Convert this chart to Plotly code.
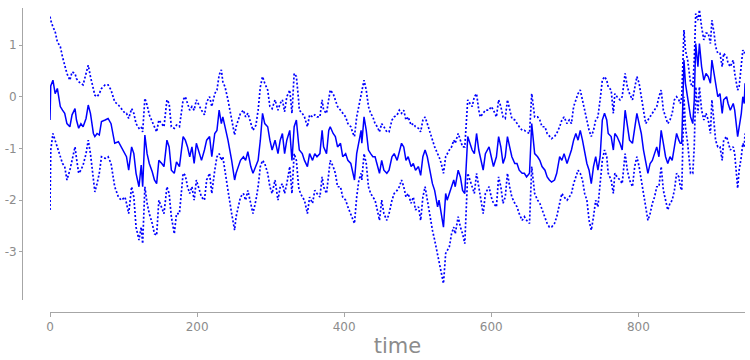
import plotly.graph_objects as go

time_index = [
    0, 1, 4, 7, 10, 14, 17, 20, 23, 27, 30, 34, 36, 39, 42, 45, 49, 52, 55, 59, 61, 64, 67, 70, 75, 79,
    83, 88, 93, 97, 102, 104, 107, 111, 114, 117, 121, 124, 126, 129, 132, 135, 139, 142, 145, 148, 152, 155, 159, 162, 165,
    169, 172, 176, 181, 184, 187, 190, 193, 196, 199, 203, 206, 210, 213, 217, 220, 224, 227, 230, 233, 235, 238, 242, 247, 251,
    253, 256, 259, 263, 266, 269, 273, 276, 280, 283, 286, 289, 292, 296, 299, 302, 306, 310, 313, 316, 319, 322, 326, 329, 332, 335, 338,
    339, 343, 346, 350, 353, 357, 360, 363, 367, 370, 372, 376, 379, 381, 385, 388, 391, 395, 398, 402, 405, 409, 412, 414, 417, 420, 423,
    424, 427, 430, 433, 436, 439, 442, 445, 448, 451, 454, 458, 461, 465, 468, 472, 475, 478, 481, 484, 487, 491, 494, 497, 501, 504, 507,
    510, 513, 517, 520, 523, 527, 529, 532, 535, 538, 540, 543, 546, 549, 551, 555, 558, 561, 564, 566, 568, 571, 574, 577, 580, 583, 585, 589, 592,
    597, 600, 603, 607, 610, 613, 616, 619, 622, 625, 628, 632, 635, 638, 642, 645, 648, 652, 655, 659, 663, 666, 669, 673, 676, 679,
    682, 686, 689, 693, 696, 699, 703, 706, 709, 712, 715, 718, 721, 724, 727, 730, 733, 736, 739, 742, 745, 748, 751, 754, 757, 759, 763, 766,
    768, 771, 775, 778, 782, 785, 788, 792, 795, 798, 801, 804, 807, 810, 813, 816, 819, 822, 825, 828, 831, 834, 837, 840, 843, 846, 849,
    852, 855, 857, 859, 862, 864, 867, 871, 874, 876, 878, 881, 883, 886, 889, 892, 895, 898, 900, 903, 905, 908, 911, 914, 916, 920, 922, 925, 929, 931, 935, 937, 940, 942, 944, 945,
]

mean_vals = [
    -0.45, 0.21, 0.32, 0.06, 0.16, -0.19, -0.26, -0.32, -0.52, -0.58, -0.35, -0.23, -0.45, -0.61, -0.52, -0.58, -0.42, -0.16, -0.32, -0.71, -0.77, -0.71, -0.74, -0.48, -0.45, -0.42,
    -0.52, -0.90, -0.87, -0.97, -1.10, -1.16, -1.42, -0.97, -1.10, -1.48, -1.74, -1.32, -1.74, -0.74, -1.10, -1.29, -1.45, -1.61, -1.68, -1.23, -1.29, -1.35, -0.84, -0.97, -1.42,
    -1.48, -1.26, -1.35, -0.77, -0.84, -0.97, -1.16, -0.97, -1.29, -0.90, -1.10, -1.23, -1.03, -0.84, -0.77, -1.16, -0.71, -0.65, -0.26, -0.52, -0.39, -0.58, -0.84, -1.23, -1.61,
    -1.48, -1.35, -1.23, -1.16, -1.23, -1.06, -1.35, -1.48, -1.35, -1.23, -0.84, -0.32, -0.52, -0.58, -0.84, -1.03, -0.84, -1.10, -0.84, -0.71, -1.10, -0.84, -0.65, -1.23, -0.58, -0.45, -0.90,
    -1.03, -1.10, -1.23, -1.35, -1.10, -1.23, -1.10, -1.16, -1.10, -0.65, -0.97, -1.10, -0.65, -0.58, -0.71, -0.77, -0.97, -0.90, -1.16, -1.10, -1.23, -1.29, -1.48, -1.61, -1.10, -0.84, -0.65,
    -0.90, -0.39, -0.65, -1.03, -1.10, -1.16, -1.16, -1.35, -1.48, -1.23, -1.42, -1.48, -1.42, -1.16, -1.10, -1.23, -1.03, -0.90, -0.97, -1.23, -1.16, -1.35, -1.29, -1.42, -1.35, -1.52, -1.16,
    -1.03, -1.16, -1.48, -1.68, -1.81, -2.13, -2.00, -2.26, -2.52, -1.87, -2.00, -1.87, -1.74, -1.61, -1.74, -1.42, -1.55, -1.81, -1.87, -1.35, -0.77, -0.90, -1.03, -1.10, -0.71, -1.03, -1.16, -1.42, -1.10,
    -0.97, -1.16, -1.35, -1.16, -0.77, -0.97, -1.29, -1.16, -0.77, -0.97, -1.16, -1.29, -1.29, -1.42, -1.48, -1.48, -1.55, -1.48, -0.52, -1.10, -1.16, -1.23, -1.35, -1.42, -1.55, -1.61,
    -1.65, -1.61, -1.48, -1.16, -1.23, -1.10, -1.29, -1.16, -1.03, -0.84, -0.71, -0.84, -0.65, -0.84, -1.10, -1.29, -1.42, -1.68, -1.35, -1.16, -1.42, -1.16, -0.45, -0.32, -0.45, -0.71, -0.77, -1.03,
    -0.71, -0.77, -0.90, -1.03, -0.26, -0.52, -0.84, -0.90, -0.58, -0.32, -0.52, -0.71, -1.03, -1.23, -1.48, -1.29, -1.23, -1.10, -0.97, -1.16, -0.65, -0.90, -1.16, -1.29, -1.16, -1.23, -0.97,
    -0.71, -0.84, -0.90, -0.90, 0.71, 0.26, -0.06, -0.39, -0.52, -0.06, 1.03, 0.58, 1.03, 0.58, 0.32, 0.45, 0.39, 0.26, 0.71, 0.45, 0.19, 0.00, 0.06, -0.32, -0.06, 0.00, -0.13, -0.26, -0.13, -0.26, -0.77, -0.58, -0.32, 0.00, -0.13, 0.26,
]

upper_vals = [
    1.55, 1.48, 1.35, 1.26, 1.06, 0.97, 0.77, 0.58, 0.45, 0.32, 0.48, 0.45, 0.35, 0.29, 0.26, 0.23, 0.45, 0.61, 0.39, 0.13, 0.03, 0.00, 0.06, 0.16, 0.23, 0.23,
    0.13, -0.10, -0.16, -0.23, -0.32, -0.32, -0.42, -0.23, -0.32, -0.52, -0.61, -0.58, -0.68, -0.03, -0.16, -0.35, -0.48, -0.61, -0.68, -0.45, -0.52, -0.58, -0.06, -0.13, -0.58,
    -0.61, -0.55, -0.58, -0.06, 0.00, -0.13, -0.26, -0.19, -0.26, -0.06, -0.19, -0.26, -0.35, -0.10, 0.00, -0.19, 0.06, 0.13, 0.42, 0.52, 0.29, 0.19, -0.06, -0.45, -0.74,
    -0.58, -0.45, -0.32, -0.26, -0.39, -0.32, -0.52, -0.65, -0.55, -0.26, 0.19, 0.39, 0.26, 0.13, -0.19, -0.23, -0.06, -0.26, -0.13, -0.06, -0.29, 0.00, 0.13, -0.32, 0.45, 0.39, -0.06,
    -0.26, -0.32, -0.39, -0.58, -0.35, -0.39, -0.35, -0.39, -0.39, -0.06, -0.26, -0.32, 0.00, 0.13, 0.06, -0.06, -0.19, -0.26, -0.32, -0.39, -0.52, -0.58, -0.71, -0.77, -0.39, -0.19, 0.00,
    0.06, 0.32, 0.13, -0.19, -0.32, -0.39, -0.52, -0.58, -0.68, -0.52, -0.58, -0.68, -0.68, -0.45, -0.39, -0.35, -0.26, -0.32, -0.26, -0.45, -0.39, -0.55, -0.52, -0.58, -0.61, -0.68, -0.45,
    -0.39, -0.52, -0.71, -0.84, -0.97, -1.10, -1.16, -1.29, -1.48, -1.16, -1.10, -1.03, -0.97, -0.84, -0.90, -0.71, -0.84, -0.97, -0.97, -0.58, -0.06, -0.13, -0.19, 0.00, 0.06, -0.26, -0.39, -0.32, -0.26,
    -0.26, -0.19, -0.26, -0.39, -0.06, -0.19, -0.39, -0.42, -0.06, -0.26, -0.42, -0.45, -0.52, -0.58, -0.65, -0.65, -0.68, -0.71, 0.06, -0.39, -0.39, -0.45, -0.58, -0.58, -0.71, -0.77,
    -0.81, -0.77, -0.71, -0.58, -0.45, -0.39, -0.52, -0.45, -0.52, -0.19, -0.06, 0.06, 0.13, -0.06, -0.26, -0.45, -0.65, -0.77, -0.65, -0.45, -0.39, -0.06, 0.32, 0.39, 0.32, 0.19, 0.13, -0.32,
    0.06, 0.00, -0.06, 0.00, 0.45, 0.19, 0.06, -0.06, 0.19, 0.39, 0.26, 0.00, -0.32, -0.52, -0.45, -0.39, -0.32, -0.26, -0.19, 0.00, 0.13, -0.26, -0.39, -0.52, -0.45, -0.32, -0.06,
    0.00, -0.06, -0.13, 0.00, 1.29, 0.90, 0.71, 0.26, 0.19, 0.71, 1.61, 1.48, 1.68, 1.35, 1.10, 1.23, 1.23, 1.03, 1.48, 1.23, 0.97, 0.84, 0.84, 0.58, 0.84, 0.77, 0.65, 0.58, 0.71, 0.45, 0.13, 0.19, 0.71, 0.90, 0.84, 0.90,
]

lower_vals = [
    -2.19, -1.03, -0.71, -0.84, -0.97, -1.16, -1.29, -1.35, -1.61, -1.42, -1.23, -0.97, -1.19, -1.48, -1.42, -1.32, -1.10, -0.84, -1.10, -1.61, -1.84, -1.68, -1.48, -1.16, -1.19, -1.16,
    -1.29, -1.74, -1.94, -2.00, -1.94, -2.06, -2.26, -1.74, -1.94, -2.52, -2.77, -2.52, -2.84, -1.74, -2.06, -2.26, -2.45, -2.65, -2.68, -2.00, -2.13, -2.26, -1.74, -1.87, -2.32,
    -2.65, -2.26, -2.26, -1.48, -1.52, -1.74, -1.87, -1.74, -2.00, -1.61, -1.81, -1.94, -2.00, -1.61, -1.48, -1.87, -1.42, -1.16, -1.10, -1.23, -1.16, -1.48, -1.81, -2.26, -2.58,
    -2.32, -2.13, -1.94, -1.87, -2.00, -1.81, -2.06, -2.26, -2.00, -1.74, -1.35, -1.23, -1.29, -1.48, -1.74, -1.87, -1.61, -2.00, -1.74, -1.68, -1.87, -1.68, -1.35, -1.87, -1.10, -1.23, -1.74,
    -1.81, -1.94, -2.00, -2.26, -1.94, -2.06, -1.81, -1.87, -1.94, -1.55, -1.74, -1.87, -1.48, -1.23, -1.35, -1.48, -1.74, -1.74, -1.94, -2.00, -2.13, -2.26, -2.39, -2.45, -1.94, -1.61, -1.48,
    -1.61, -1.10, -1.29, -1.74, -1.87, -1.94, -2.00, -2.19, -2.39, -2.00, -2.26, -2.39, -2.26, -2.00, -1.87, -1.81, -1.74, -1.61, -1.74, -1.94, -1.87, -2.06, -1.94, -2.19, -2.13, -2.39, -1.94,
    -1.74, -2.00, -2.32, -2.58, -2.77, -3.03, -3.16, -3.35, -3.61, -3.03, -2.97, -2.90, -2.65, -2.52, -2.65, -2.32, -2.52, -2.65, -2.84, -2.13, -1.48, -1.61, -1.74, -1.87, -1.48, -1.74, -2.00, -2.26, -1.87,
    -1.74, -1.94, -2.06, -2.13, -1.55, -1.74, -2.06, -1.94, -1.48, -1.74, -1.94, -2.06, -2.13, -2.26, -2.39, -2.32, -2.39, -2.45, -1.35, -1.87, -2.00, -2.06, -2.19, -2.32, -2.45, -2.52,
    -2.52, -2.45, -2.32, -2.06, -1.87, -1.94, -2.00, -1.94, -1.87, -1.68, -1.55, -1.42, -1.48, -1.61, -1.87, -2.00, -2.39, -2.58, -2.32, -2.00, -2.13, -1.74, -1.23, -1.03, -1.16, -1.48, -1.61, -1.87,
    -1.48, -1.55, -1.61, -1.68, -1.10, -1.42, -1.61, -1.74, -1.35, -1.16, -1.35, -1.61, -1.87, -2.13, -2.39, -2.26, -2.06, -1.94, -1.74, -1.74, -1.35, -1.81, -2.00, -2.19, -2.06, -2.00, -1.81,
    -1.48, -1.55, -1.74, -1.81, 0.00, -0.58, -0.90, -1.48, -1.48, -0.97, 0.19, -0.32, 0.19, -0.26, -0.45, -0.32, -0.45, -0.71, -0.06, -0.52, -0.84, -0.97, -0.97, -1.23, -0.84, -0.77, -0.90, -1.03, -0.97, -1.10, -1.77, -1.42, -1.16, -0.90, -0.97, -0.71,
]

assert len(time_index) == len(mean_vals) == len(upper_vals) == len(lower_vals)

x_ticks = [0, 200, 400, 600, 800]
y_ticks = [-3, -2, -1, 0, 1]

BLUE = "#0000ff"
GREY = "#8c8c8c"
AXIS = "#a6a6a6"

fig = go.Figure()
fig.add_trace(go.Scatter(x=time_index, y=upper_vals, mode="lines",
                         line=dict(color=BLUE, width=1.7, dash="2px,2px"), showlegend=False))
fig.add_trace(go.Scatter(x=time_index, y=lower_vals, mode="lines",
                         line=dict(color=BLUE, width=1.7, dash="2px,2px"), showlegend=False))
fig.add_trace(go.Scatter(x=time_index, y=mean_vals, mode="lines",
                         line=dict(color=BLUE, width=1.5), showlegend=False))

W, H = 750, 360
ml, mr, mt, mb = 22, 5, 8, 48
pw, ph = W - ml - mr, H - mt - mb

fig.update_layout(
    width=W, height=H,
    margin=dict(l=ml, r=mr, t=mt, b=mb, autoexpand=False),
    paper_bgcolor="white", plot_bgcolor="white",
    font=dict(family="DejaVu Sans", color=GREY, size=12),
    xaxis=dict(
        domain=[(50 - ml) / pw, 1.0],
        range=[0, 945],
        anchor="free", position=0,
        automargin=False,
        showgrid=False, zeroline=False,
        showline=True, linecolor=AXIS, linewidth=1,
        ticks="outside", ticklen=4, tickcolor=AXIS, tickwidth=1,
        tickvals=x_ticks, ticktext=[str(v) for v in x_ticks],
        tickfont=dict(size=12, color=GREY),
        title=dict(text="time", font=dict(size=21, color=GREY), standoff=4),
    ),
    yaxis=dict(
        domain=[(312 - 300) / ph, 1.0],
        range=[-3.93, 1.716],
        anchor="free", position=0,
        automargin=False,
        showgrid=False, zeroline=False,
        showline=True, linecolor=AXIS, linewidth=1,
        ticks="outside", ticklen=3, tickcolor=AXIS, tickwidth=1,
        tickvals=y_ticks, ticktext=[str(v) for v in y_ticks],
        tickfont=dict(size=12, color=GREY),
    ),
)

fig.write_html("out.html")
